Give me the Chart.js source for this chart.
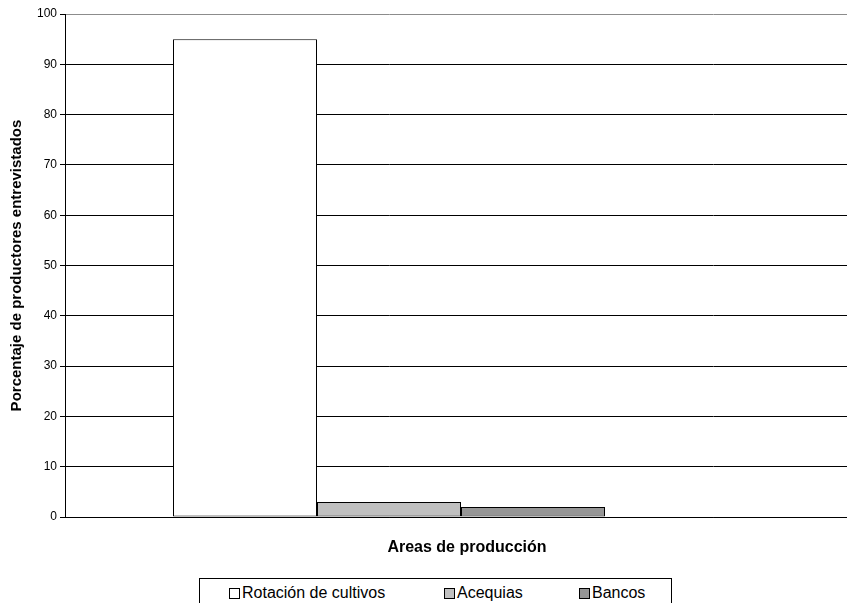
<!DOCTYPE html>
<html lang="es">
<head>
<meta charset="utf-8">
<title>Areas de producción</title>
<script src="https://cdn.jsdelivr.net/npm/chart.js@4.4.1/dist/chart.umd.min.js"></script>
<style>
  html, body { margin: 0; padding: 0; background: #fff; }
  #frame { position: relative; width: 847px; height: 603px; overflow: hidden; background: #fff; }
  #chart { position: absolute; left: 0; top: 0; }
  .txt { position: absolute; font-family: "Liberation Sans", Arial, sans-serif; color: #000; white-space: nowrap; }
  #xTitle { left: 0; width: 934px; top: 538px; line-height: 18px; font-size: 16px; font-weight: bold; text-align: center; }
  #legendBox { position: absolute; left: 199px; top: 578px; width: 473px; height: 60px; border: 1px solid #000; box-sizing: border-box; background: #fff; }
  .swatch { position: absolute; top: 588px; width: 11px; height: 11px; border: 1px solid #000; box-sizing: border-box; }
  .legendText { top: 584px; line-height: 18px; font-size: 16px; }
</style>
</head>
<body>
<div id="frame">
  <canvas id="chart" width="1361" height="603"></canvas>
  <div id="xTitle" class="txt">Areas de producción</div>
  <div id="legendBox"></div>
</div>
<script>
// One group of bars; the second category slot is left empty.
const categories = ['', ''];
const seriesNames = ['Rotación de cultivos', 'Acequias', 'Bancos'];
const rotacion = [95, null];
const acequias = [3, null];
const bancos = [2, null];
const yTickValues = [0, 10, 20, 30, 40, 50, 60, 70, 80, 90, 100];

const seriesColors = ['#ffffff', '#c0c0c0', '#969696'];
const legendLeft = [229, 444, 579];
const FONT = '"Liberation Sans", Arial, sans-serif';

const seriesValues = [rotacion, acequias, bancos];

new Chart(document.getElementById('chart'), {
  type: 'bar',
  data: {
    labels: categories,
    datasets: seriesNames.map((name, i) => ({
      label: name,
      data: seriesValues[i],
      backgroundColor: seriesColors[i],
      borderColor: '#000',
      borderWidth: 1,
      borderSkipped: false,
      categoryPercentage: 2 / 3,
      barPercentage: 1
    }))
  },
  options: {
    responsive: false,
    animation: false,
    events: [],
    layout: { padding: { top: 14, bottom: 86, left: 0, right: 0 } },
    plugins: { legend: { display: false }, tooltip: { enabled: false } },
    scales: {
      x: {
        grid: { display: false, drawTicks: false },
        ticks: { display: false },
        border: { display: true, color: '#000', width: 1 }
      },
      y: {
        min: 0,
        max: 100,
        afterFit: s => { s.width = 65; },
        afterBuildTicks: s => { s.ticks = yTickValues.map(v => ({ value: v })); },
        ticks: { color: '#000', padding: 3, font: { family: FONT, size: 12 } },
        grid: {
          color: ctx => (ctx.tick && ctx.tick.value === 100 ? '#8c8c8c' : '#000'),
          tickColor: '#000',
          tickLength: 5,
          lineWidth: 1
        },
        border: { display: true, color: '#000', width: 1 },
        title: {
          display: true,
          text: 'Porcentaje de productores entrevistados',
          color: '#000',
          font: { family: FONT, size: 15, weight: 'bold' },
          padding: { top: 8, bottom: 0 }
        }
      }
    }
  }
});

// Legend built from the series names and colours
const frame = document.getElementById('frame');
seriesNames.forEach((name, i) => {
  const sw = document.createElement('div');
  sw.className = 'swatch';
  sw.style.left = legendLeft[i] + 'px';
  sw.style.background = seriesColors[i];
  frame.appendChild(sw);
  const t = document.createElement('div');
  t.className = 'txt legendText';
  t.style.left = (legendLeft[i] + 13) + 'px';
  t.textContent = name;
  frame.appendChild(t);
});
</script>
</body>
</html>
